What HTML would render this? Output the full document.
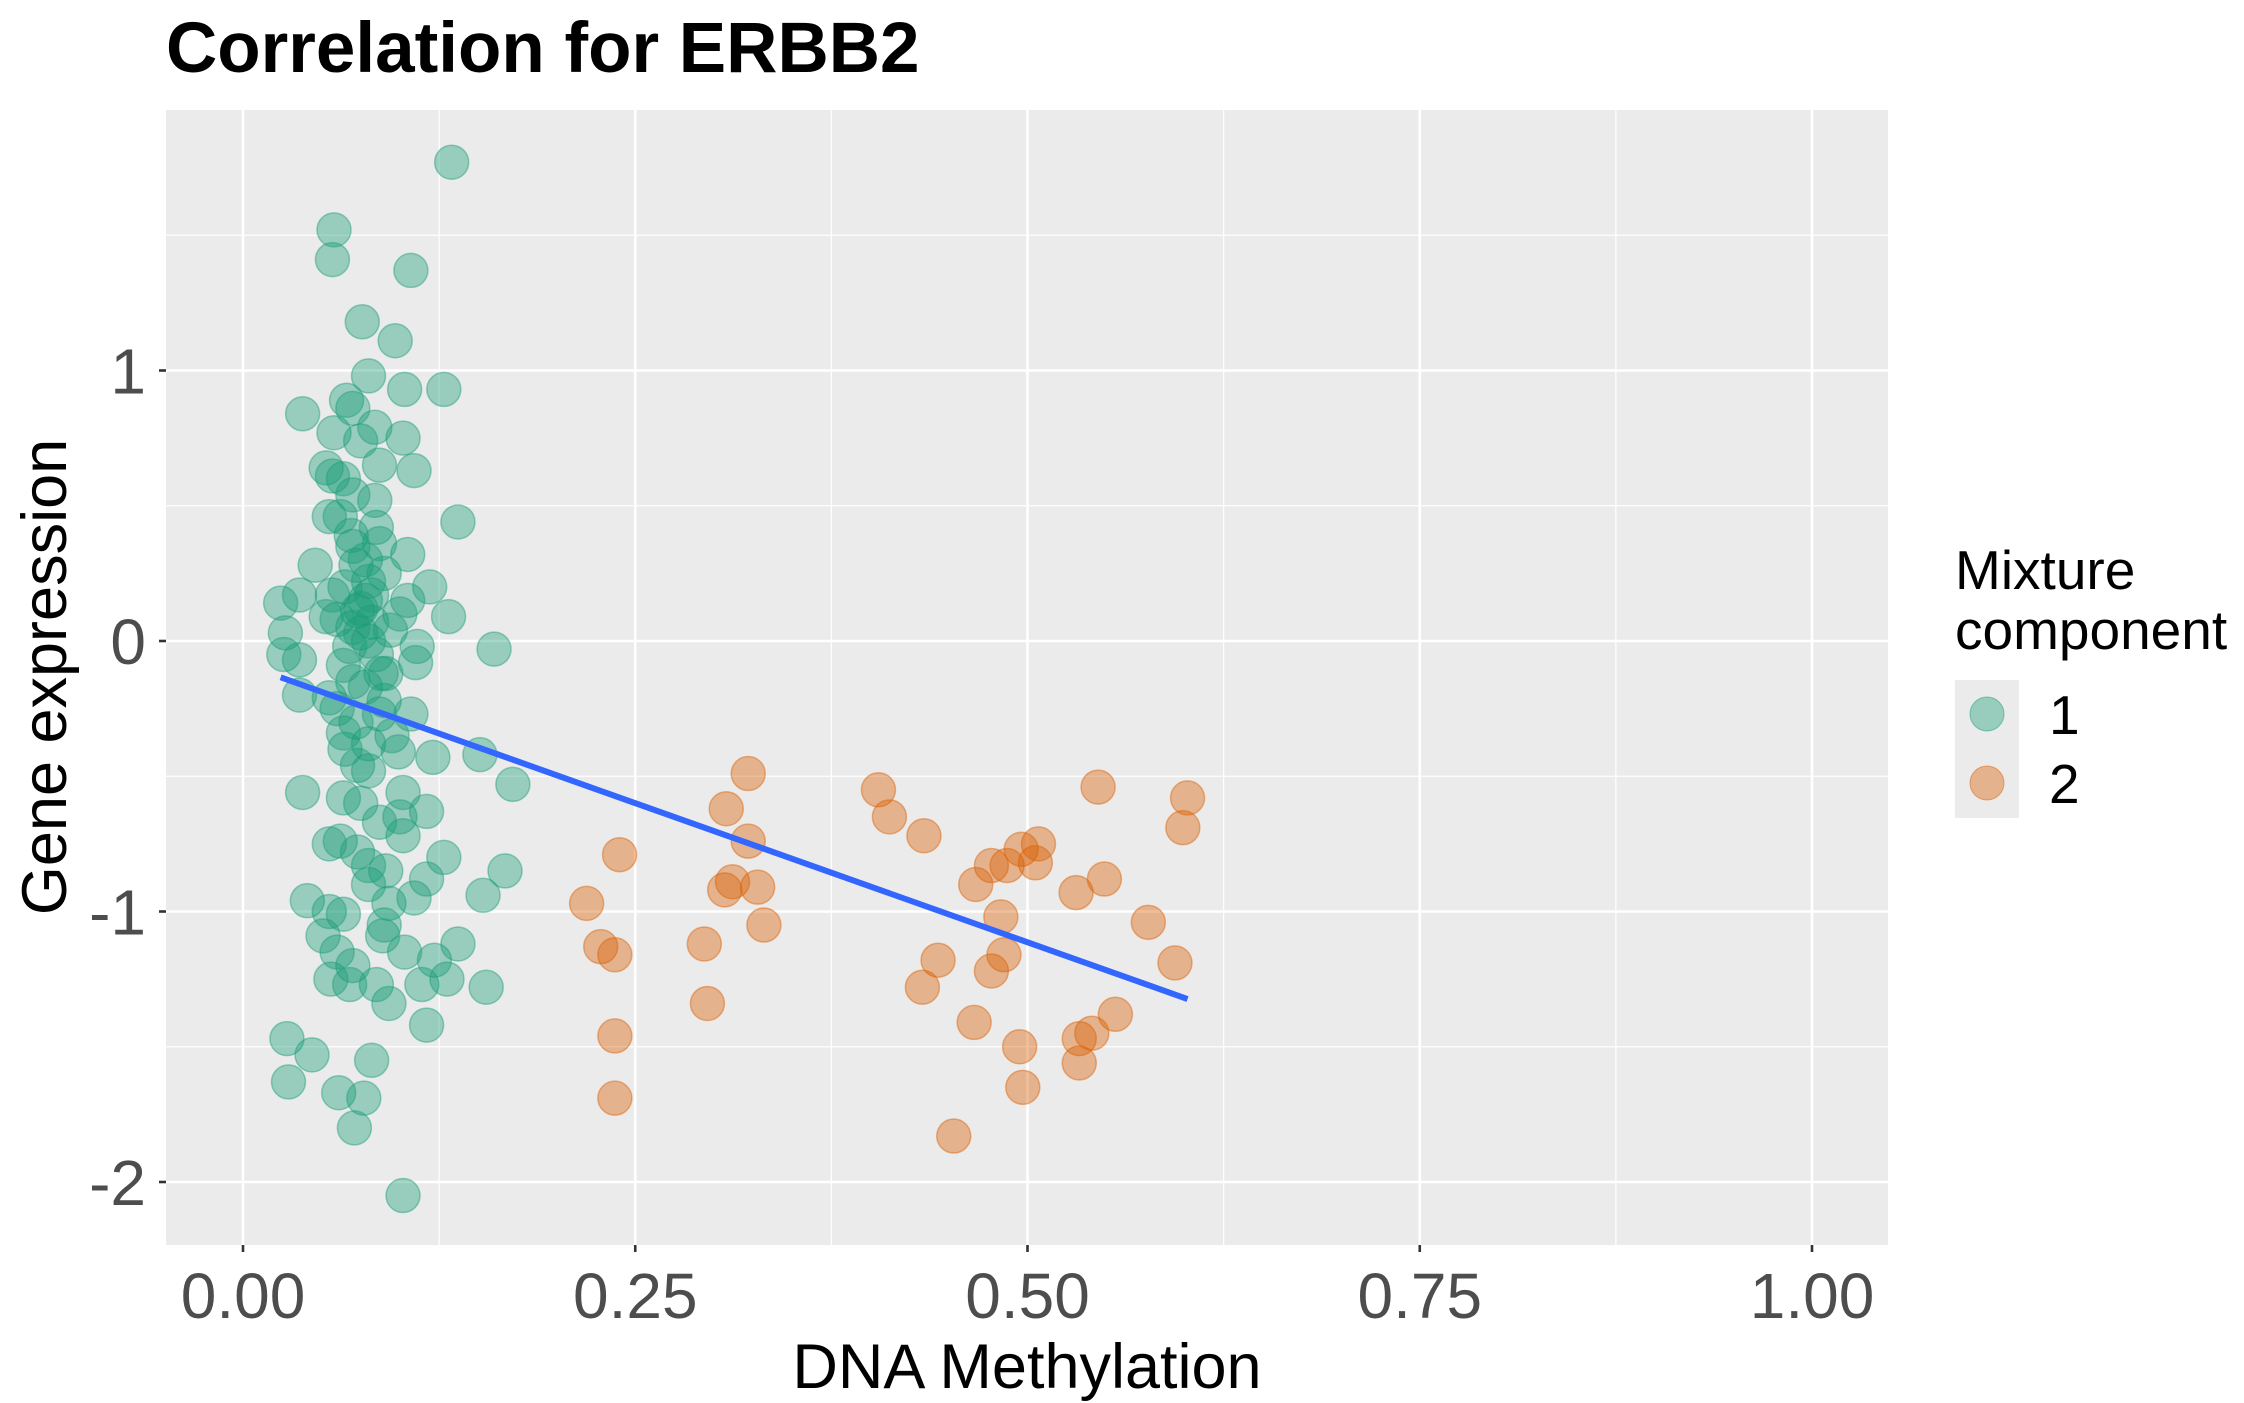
<!DOCTYPE html>
<html><head><meta charset="utf-8"><style>body{margin:0;background:#fff}svg{display:block}text{font-family:"Liberation Sans",sans-serif}</style></head>
<body>
<svg id="chart" width="2244" height="1403" xmlns="http://www.w3.org/2000/svg">
<text x="166" y="72" font-size="71" font-weight="bold" fill="#000">Correlation for ERBB2</text>
<rect x="166" y="110" width="1722" height="1135" fill="#ebebeb"/>
<g id="grid"></g><g id="pts"></g><g id="axes"></g>
<text x="1027" y="1388" font-size="63" text-anchor="middle" fill="#000">DNA Methylation</text>
<text transform="translate(66,677) rotate(-90)" font-size="63" text-anchor="middle" fill="#000">Gene expression</text>
<g>
<text x="1955" y="589" font-size="55" fill="#000">Mixture</text>
<text x="1955" y="649" font-size="55" fill="#000">component</text>
<rect x="1955" y="680" width="64" height="69" fill="#ebebeb"/>
<rect x="1955" y="749" width="64" height="69" fill="#ebebeb"/>
<circle cx="1987" cy="714" r="17" fill="#1b9e77" fill-opacity="0.4" stroke="#1b9e77" stroke-opacity="0.5"/>
<circle cx="1987" cy="783" r="17" fill="#d95f02" fill-opacity="0.4" stroke="#d95f02" stroke-opacity="0.5"/>
<text x="2049" y="734" font-size="55" fill="#000">1</text>
<text x="2049" y="803" font-size="55" fill="#000">2</text>
</g>
</svg>
<script>
const g1x=[.133,.058,.057,.107,.076,.097,.080,.103,.128,.066,.038,.070,.084,.058,.075,.102,.087,.109,.053,.064,.057,.070,.084,.062,.137,.055,.069,.087,.046,.105,.078,.119,.024,.036,.057,.082,.105,.131,.027,.053,.073,.094,.111,.026,.036,.160,.064,.091,.036,.055,.078,.107,.087,.064,.080,.099,.121,.151,.073,.038,.064,.102,.172,.087,.117,.062,.073,.055,.102,.128,.167,.153,.080,.091,.041,.117,.109,.055,.064,.093,.051,.089,.137,.060,.103,.122,.056,.068,.085,.114,.130,.155,.093,.117,.028,.044,.082,.029,.061,.077,.071,.102,
.07,.08,.075,.065,.09,.085,.07,.06,.1,.08,.072,.09,.065,.08,.07,.095,.075,.085,.06,.11,.1,.08,.09,.07,.075,.082,.068,.078,.088,.072];
const g1y=[1.77,1.52,1.41,1.37,1.18,1.11,.98,.93,.93,.89,.84,.86,.79,.77,.74,.75,.65,.63,.64,.60,.61,.54,.52,.46,.44,.46,.39,.36,.28,.32,.30,.20,.14,.17,.17,.17,.15,.09,.03,.09,.11,.04,-.02,-.05,-.07,-.03,-.09,-.12,-.20,-.21,-.17,-.27,-.27,-.34,-.38,-.41,-.43,-.42,-.46,-.56,-.58,-.56,-.53,-.67,-.63,-.74,-.78,-.75,-.72,-.80,-.85,-.94,-.83,-.85,-.96,-.88,-.95,-1.00,-1.01,-.97,-1.09,-1.09,-1.12,-1.15,-1.15,-1.18,-1.25,-1.27,-1.27,-1.27,-1.25,-1.28,-1.34,-1.42,-1.47,-1.53,-1.55,-1.63,-1.67,-1.69,-1.80,-2.05,
.05,0,.12,.2,.25,-.05,-.15,.08,.1,.22,-.3,-.22,-.4,-.48,.35,-.35,-.6,.42,-.25,-.08,-.65,-.9,-1.05,-1.2,.03,.07,-.02,.15,-.12,.28];
const g2x=[.322,.308,.322,.240,.219,.307,.312,.328,.332,.228,.237,.294,.296,.237,.237,.405,.412,.434,.545,.602,.599,.487,.477,.467,.496,.507,.505,.549,.531,.483,.443,.433,.485,.477,.577,.594,.556,.541,.533,.533,.495,.466,.497,.453];
const g2y=[-.49,-.62,-.74,-.79,-.97,-.92,-.89,-.91,-1.05,-1.13,-1.16,-1.12,-1.34,-1.46,-1.69,-.55,-.65,-.72,-.54,-.58,-.69,-.83,-.83,-.90,-.77,-.75,-.82,-.88,-.93,-1.02,-1.18,-1.28,-1.16,-1.22,-1.04,-1.19,-1.38,-1.45,-1.47,-1.56,-1.50,-1.41,-1.65,-1.83];
const xTicks=[0,0.25,0.5,0.75,1],xTickLabels=["0.00","0.25","0.50","0.75","1.00"];
const yTicks=[-2,-1,0,1],yTickLabels=["-2","-1","0","1"];
const X=v=>243+v*(1812-243), Y=v=>641-v*270.5;
const NS="http://www.w3.org/2000/svg";
function mk(p,t,a){const e=document.createElementNS(NS,t);for(const k in a)e.setAttribute(k,a[k]);p.appendChild(e);return e;}
const grid=document.getElementById('grid'),pts=document.getElementById('pts'),axes=document.getElementById('axes');
for(let i=0;i<xTicks.length-1;i++){const m=(xTicks[i]+xTicks[i+1])/2;const l=mk(grid,'line',{x1:X(m),x2:X(m),y1:110,y2:1245,stroke:'#fff','stroke-width':1.2});
}
[-1.5,-0.5,0.5,1.5].forEach(m=>{const l=mk(grid,'line',{x1:166,x2:1888,y1:Y(m),y2:Y(m),stroke:'#fff','stroke-width':1.2});
});
xTicks.forEach((t,i)=>{const l=mk(grid,'line',{x1:X(t),x2:X(t),y1:110,y2:1245,stroke:'#fff','stroke-width':2.6});

mk(axes,'line',{x1:X(t),x2:X(t),y1:1245,y2:1252,stroke:'#333','stroke-width':2.6});
const tx=mk(axes,'text',{x:X(t),y:1318,'font-size':64,'text-anchor':'middle',fill:'#4d4d4d'});tx.textContent=xTickLabels[i];
});
yTicks.forEach((t,i)=>{const l=mk(grid,'line',{x1:166,x2:1888,y1:Y(t),y2:Y(t),stroke:'#fff','stroke-width':2.6});

mk(axes,'line',{x1:159,x2:166,y1:Y(t),y2:Y(t),stroke:'#333','stroke-width':2.6});
const tx=mk(axes,'text',{x:146,y:Y(t)+23,'font-size':64,'text-anchor':'end',fill:'#4d4d4d'});tx.textContent=yTickLabels[i];
});
function plot(xs,ys,c,n){xs.forEach((x,i)=>{const p=mk(pts,'circle',{cx:X(x),cy:Y(ys[i]),r:17,fill:c,'fill-opacity':0.4,stroke:c,'stroke-opacity':0.45,'stroke-width':1.5});
});}
plot(g1x,g1y,'#1b9e77','point-component-1');plot(g2x,g2y,'#d95f02','point-component-2');
const ax=g1x.concat(g2x),ay=g1y.concat(g2y),n=ax.length;
const mx=ax.reduce((a,b)=>a+b)/n,my=ay.reduce((a,b)=>a+b)/n;
let sxy=0,sxx=0;for(let i=0;i<n;i++){sxy+=(ax[i]-mx)*(ay[i]-my);sxx+=(ax[i]-mx)**2;}
const b=sxy/sxx,a=my-b*mx,x0=Math.min(...ax),x1=Math.max(...ax);
const rl=mk(pts,'line',{x1:X(x0),y1:Y(a+b*x0),x2:X(x1),y2:Y(a+b*x1),stroke:'#3366ff','stroke-width':6});

</script>
</body></html>
